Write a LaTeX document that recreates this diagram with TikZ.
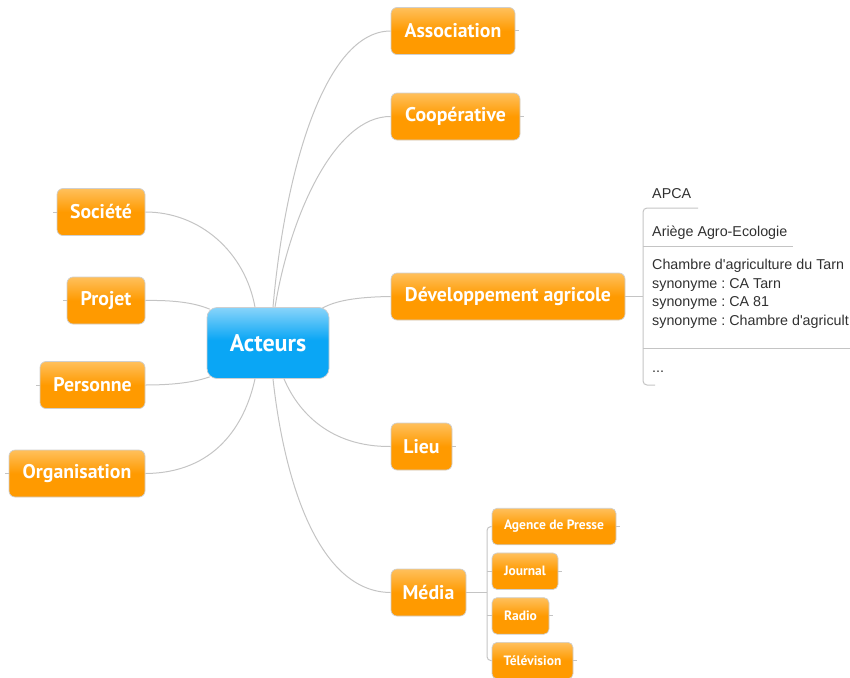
\documentclass[tikz,border=0pt]{standalone}
\usepackage{fontspec}
\setmainfont{PT Sans}
\newfontfamily\listfont{Liberation Sans}
\usetikzlibrary{positioning}
\frenchspacing

\definecolor{topicorange}{HTML}{FF9A00}
\definecolor{topiclight}{HTML}{FFC05C}
\definecolor{centralblue}{HTML}{0AA6F5}
\definecolor{centrallight}{HTML}{88D4FA}
\definecolor{linkgray}{HTML}{C4C4C4}
\definecolor{framegray}{HTML}{CFCFCF}
\definecolor{entrytext}{HTML}{303030}

\pgfdeclareverticalshading{topicshade}{100bp}{color(0bp)=(topicorange); color(50bp)=(topicorange); color(75bp)=(topiclight); color(100bp)=(topiclight)}
\pgfdeclareverticalshading{centralshade}{100bp}{color(0bp)=(centralblue); color(52bp)=(centralblue); color(75bp)=(centrallight); color(100bp)=(centrallight)}

\tikzset{
  topic/.style={draw=framegray, line width=0.7pt, rounded corners=6pt, shading=topicshade,
    text=white, font=\bfseries\fontsize{19.8}{22}\selectfont, inner sep=0pt, minimum height=47pt},
  subtopic/.style={topic, rounded corners=5pt, font=\bfseries\fontsize{13.5}{16}\selectfont, minimum height=36.5pt},
  central/.style={draw=framegray, line width=0.7pt, rounded corners=10pt, shading=centralshade,
    text=white, font=\bfseries\fontsize{24}{28}\selectfont, inner sep=0pt, minimum width=122pt, minimum height=71pt},
  branch/.style={draw=linkgray, line width=1pt},
  entry/.style={anchor=base west, inner sep=0pt, text=entrytext, font=\listfont\fontsize{14.3}{17}\selectfont}
}

\begin{document}
\begin{tikzpicture}[x=1pt, y=-1pt]
\useasboundingbox (0,0) rectangle (850,677);

% central topic and main branches
\node[central] (act) at (268,343) {Acteurs};

\node[topic, minimum width=124pt] (asso) at (453,31) {Association};
\node[topic, minimum width=129pt] (coop) at (455.5,116.5) {Coopérative};
\node[topic, minimum width=234pt] (dev) at (508,296.5) {Développement agricole};
\node[topic, minimum width=61pt] (lieu) at (421.5,446.5) {Lieu};
\node[topic, minimum width=75pt] (media) at (428.5,592.5) {Média};

\node[topic, minimum width=88pt] (soc) at (101,212) {Société};
\node[topic, minimum width=78pt] (proj) at (106,300.5) {Projet};
\node[topic, minimum width=105pt] (pers) at (92.5,385) {Personne};
\node[topic, minimum width=136pt] (org) at (77,473.5) {Organisation};

% media sub topics
\node[subtopic, minimum width=124pt] (agence) at (554,526.5) {Agence de Presse};
\node[subtopic, minimum width=66pt, below=7.5pt of agence.south west, anchor=north west] (journal) {Journal};
\node[subtopic, minimum width=57pt, below=7.5pt of journal.south west, anchor=north west] (radio) {Radio};
\node[subtopic, minimum width=81pt, below=7.5pt of radio.south west, anchor=north west] (tele) {Télévision};

% list under developpement agricole
\node[entry] (apca) at (652,198) {APCA};
\node[entry] (ariege) at (652,236.7) {Ariège Agro-Ecologie};
\node[entry] (chambre) at (652,269.3) {Chambre d'agriculture du Tarn};
\node[entry] (syna) at (652,288) {synonyme : CA Tarn};
\node[entry] (synb) at (652,306.8) {synonyme : CA 81};
\node[entry] (sync) at (652,325.6) {synonyme : Chambre d'agricult};
\node[entry] (etc) at (652,372) {...};

% curved links to the centre
\draw[branch] (soc.east) .. controls (200,212) and (245,252) .. ([xshift=-13pt]act.north);
\draw[branch] (proj.east) .. controls (175,300) and (195,303) .. ([xshift=3pt,yshift=-2pt]act.north west);
\draw[branch] (pers.east) .. controls (175,385) and (195,382) .. ([xshift=3pt,yshift=2pt]act.south west);
\draw[branch] (org.east) .. controls (215,473) and (245,425) .. ([xshift=-13pt]act.south);
\draw[branch] (asso.west) .. controls (325,31) and (285,170) .. ([xshift=5pt]act.north);
\draw[branch] (coop.west) .. controls (335,116) and (290,215) .. ([xshift=7pt]act.north);
\draw[branch] (dev.west) .. controls (355,297) and (335,301) .. ([xshift=-7pt,yshift=-1pt]act.north east);
\draw[branch] (lieu.west) .. controls (330,447) and (298,412) .. ([xshift=16pt]act.south);
\draw[branch] (media.west) .. controls (318,592) and (284,480) .. ([xshift=5pt]act.south);

% free ends
\draw[branch] (asso.east) -- ++(4,0);
\draw[branch] (coop.east) -- ++(4,0);
\draw[branch] (lieu.east) -- ++(4,0);
\draw[branch] (soc.west) -- ++(-4,0);
\draw[branch] (proj.west) -- ++(-4,0);
\draw[branch] (pers.west) -- ++(-4,0);
\draw[branch] (org.west) -- ++(-4,0);
\draw[branch] (agence.east) -- ++(4,0);
\draw[branch] (journal.east) -- ++(4,0);
\draw[branch] (radio.east) -- ++(4,0);
\draw[branch] (tele.east) -- ++(4,0);

% media bracket
\coordinate (mrail) at (487,592.5);
\draw[branch] (media.east) -- (mrail);
\draw[branch, rounded corners=4pt] (agence.west) -| (mrail) |- (tele.west);
\draw[branch] (journal.west) -- (journal.west -| mrail);
\draw[branch] (radio.west) -- (radio.west -| mrail);

% list bracket
\coordinate (lrail) at (643,296.5);
\draw[branch] (dev.east) -- (lrail);
\draw[branch, rounded corners=4pt] (698,208) -- (lrail |- 0,208) -- (lrail |- 0,385) -- (655,385);
\draw[branch] (lrail |- 0,246) -- (793,246);
\draw[branch] (lrail |- 0,348) -- (850,348);
\end{tikzpicture}
\end{document}
